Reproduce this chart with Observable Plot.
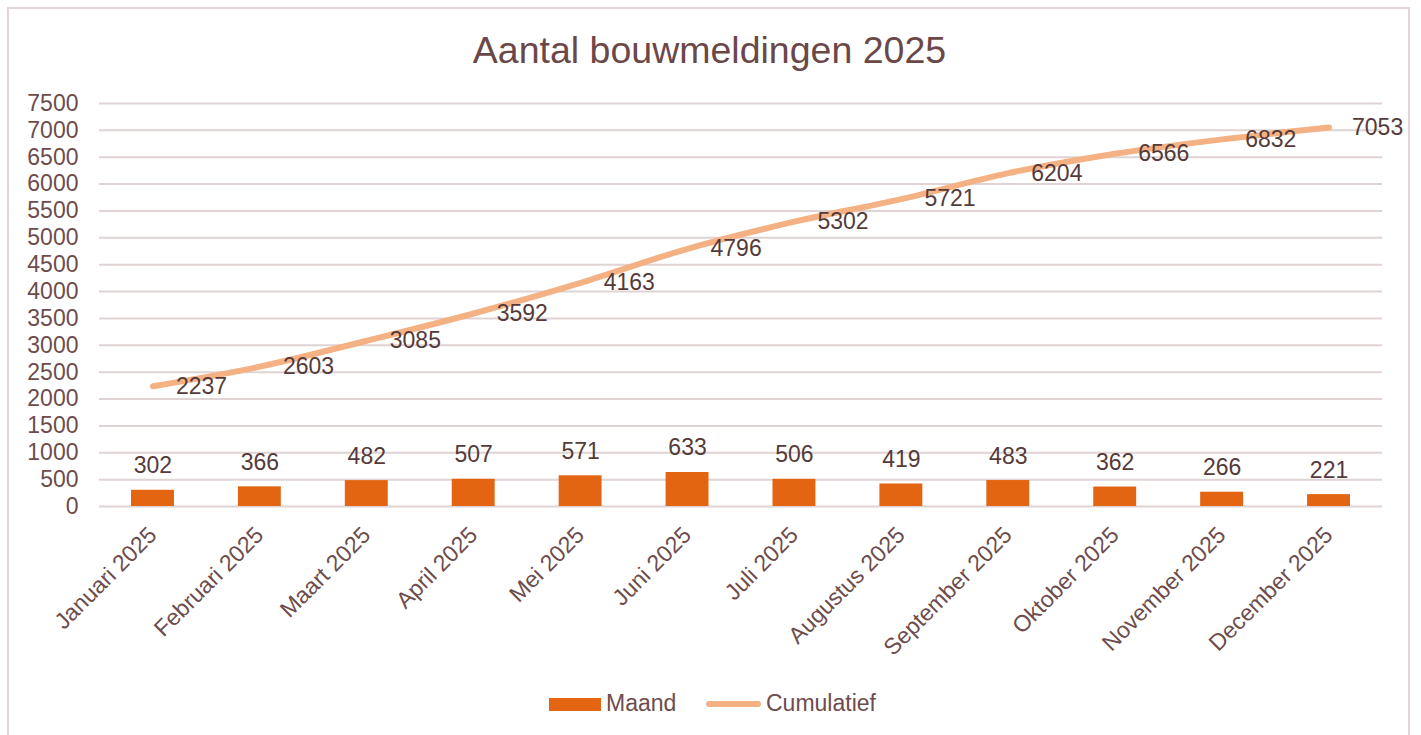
<!DOCTYPE html>
<html>
<head>
<meta charset="utf-8">
<script src="https://cdn.jsdelivr.net/npm/d3@7"></script>
<script src="https://cdn.jsdelivr.net/npm/@observablehq/plot@0.6"></script>
<style>
  html, body { margin: 0; padding: 0; background: #fff; }
  #wrap { position: relative; width: 1421px; height: 735px; font-family: "Liberation Sans", Arial, sans-serif; overflow: hidden; }
  #frame { position: absolute; left: 7px; top: 7px; width: 1403px; height: 730px; border: 2px solid #e3d5d5; box-sizing: border-box; }
  #title { position: absolute; left: 0; width: 1419px; top: 32px; text-align: center; font-size: 37.5px; line-height: 37px; color: #6b4848; }
  #chart { position: absolute; left: 0; top: 0; }
  .leg { position: absolute; font-size: 23px; line-height: 23px; color: #6d4c4c; }
</style>
</head>
<body>
<div id="wrap">
  <div id="frame"></div>
  <div id="chart"></div>
  <div id="title">Aantal bouwmeldingen 2025</div>
  <div id="legend"></div>
</div>
<script>
const months = ["Januari 2025","Februari 2025","Maart 2025","April 2025","Mei 2025","Juni 2025","Juli 2025","Augustus 2025","September 2025","Oktober 2025","November 2025","December 2025"];
const maand = [302,366,482,507,571,633,506,419,483,362,266,221];
const cumulatief = [2237,2603,3085,3592,4163,4796,5302,5721,6204,6566,6832,7053];
const yTicks = [0,500,1000,1500,2000,2500,3000,3500,4000,4500,5000,5500,6000,6500,7000,7500];
const seriesNames = ["Maand","Cumulatief"];
const colors = ["#e36411","#f4b183"];

const data = months.map((m, i) => ({month: m, maand: maand[i], cum: cumulatief[i]}));

const textColor = "#6d4c4c";
const labelColor = "#553a3a";

const chart = Plot.plot({
  width: 1421,
  height: 735,
  marginLeft: 99,
  marginRight: 39,
  marginTop: 103,
  marginBottom: 229,
  style: {fontFamily: "Liberation Sans, Arial, sans-serif", fontSize: "23px", background: "transparent"},
  x: {type: "band", domain: months, padding: 0, round: false, axis: null},
  y: {domain: [0, 7500], axis: null},
  marks: [
    Plot.ruleY(yTicks, {stroke: "#e0d3d3", strokeWidth: 2}),
    Plot.axisY({ticks: yTicks, tickSize: 0, tickPadding: 21, tickFormat: d => String(d), fill: textColor, fontSize: 23}),
    Plot.barY(data, {x: "month", y: "maand", fill: colors[0], insetLeft: 32, insetRight: 32}),
    Plot.line(data, {x: "month", y: "cum", stroke: colors[1], strokeWidth: 6, curve: "catmull-rom", strokeLinecap: "round"}),
    Plot.text(data, {x: "month", y: "maand", text: d => String(d.maand), lineAnchor: "bottom", dy: -17, fill: labelColor, fontSize: 23}),
    Plot.text(data, {x: "month", y: "cum", text: d => String(d.cum), textAnchor: "start", dx: 23, fill: labelColor, fontSize: 23}),
    Plot.text(months, {x: d => d, frameAnchor: "bottom", text: d => d, rotate: -45, textAnchor: "end", dx: 5, dy: 30, fill: textColor, fontSize: 23})
  ]
});
document.getElementById("chart").appendChild(chart);

// legend
const legend = document.getElementById("legend");
legend.innerHTML = `
  <div class="leg" style="left:549px;top:698px;width:52px;height:13px;background:${colors[0]}"></div>
  <div class="leg" style="left:606px;top:692px;">${seriesNames[0]}</div>
  <div class="leg" style="left:706px;top:701px;width:55px;height:6px;border-radius:3px;background:${colors[1]}"></div>
  <div class="leg" style="left:766px;top:692px;">${seriesNames[1]}</div>
`;
</script>
</body>
</html>
